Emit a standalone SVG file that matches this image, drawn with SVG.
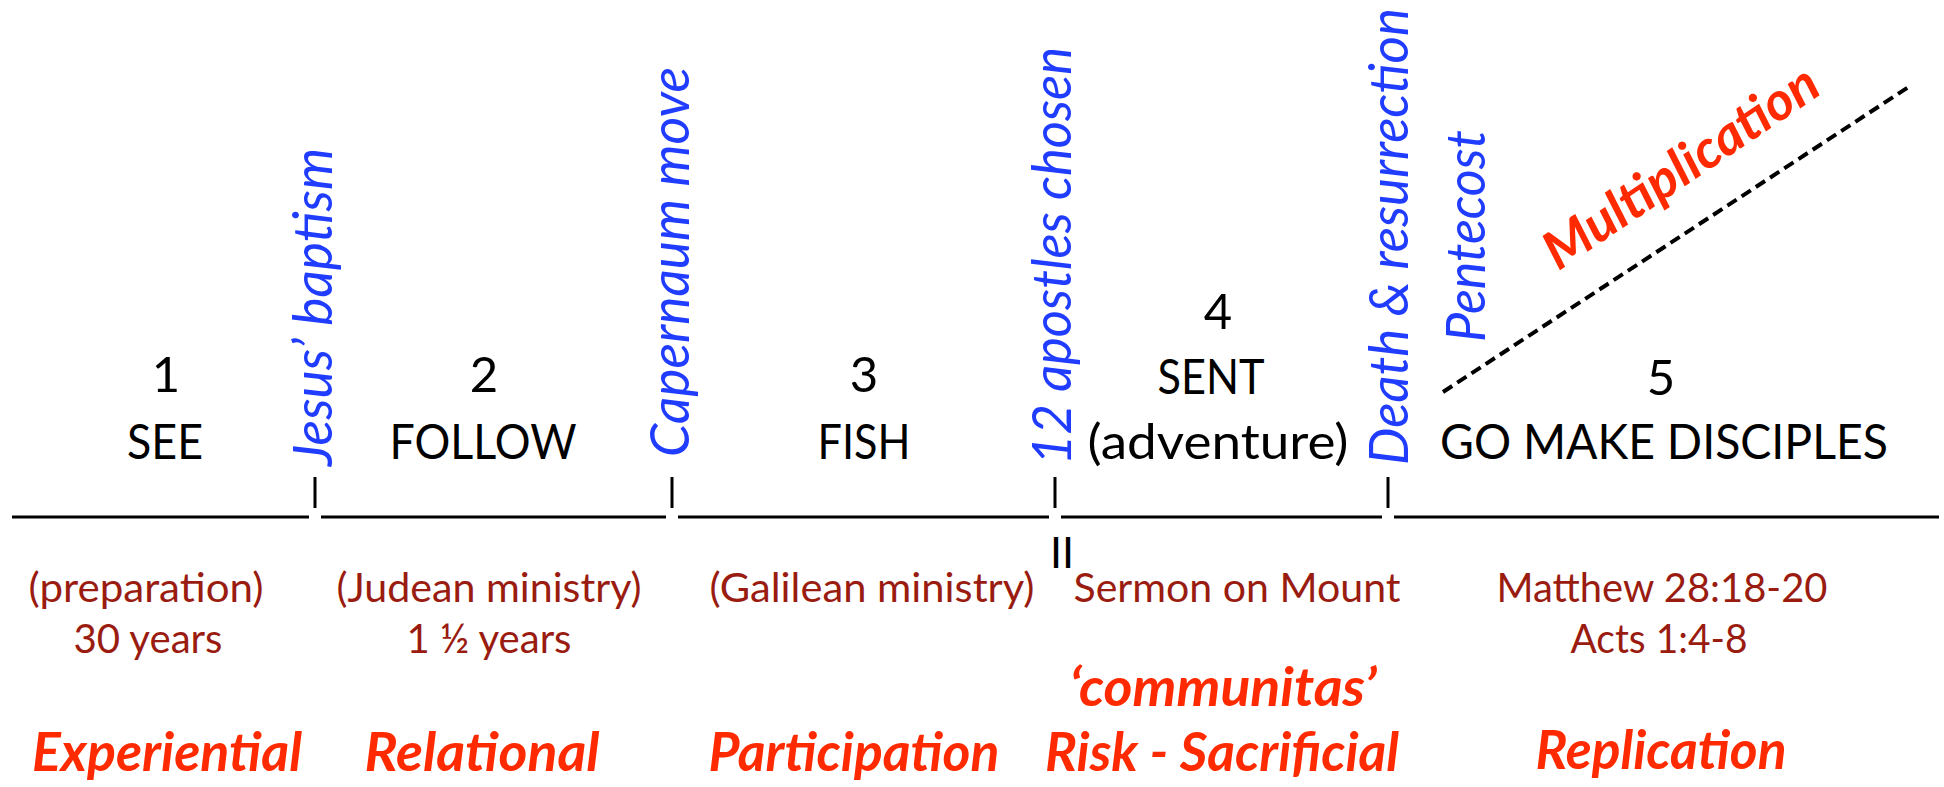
<svg xmlns="http://www.w3.org/2000/svg" width="1944" height="787" viewBox="0 0 1944 787">
<style>
.blk{font-family:Lato,"Liberation Sans",sans-serif;font-size:49px;fill:#000;text-anchor:middle}
.blue{font-family:Lato,"Liberation Sans",sans-serif;font-size:54px;font-style:italic;fill:#1f3cff}
.brn{font-family:Lato,"Liberation Sans",sans-serif;font-size:41px;fill:#9a1c10;text-anchor:middle}
.red{font-family:Lato,"Liberation Sans",sans-serif;font-size:53px;font-style:italic;font-weight:bold;fill:#ff2a00;text-anchor:middle}
.axis{stroke:#000;stroke-width:3;fill:none}
.tick{stroke:#000;stroke-width:3}
</style>
<rect width="1944" height="787" fill="#fff"/>
<g id="connectors">
<g id="timeline" class="axis">
<line x1="12" y1="517" x2="309" y2="517"/>
<line x1="321" y1="517" x2="666" y2="517"/>
<line x1="678" y1="517" x2="1049" y2="517"/>
<line x1="1061" y1="517" x2="1382" y2="517"/>
<line x1="1394" y1="517" x2="1939" y2="517"/>
</g>
<g id="ticks" class="tick">
<line x1="315" y1="477" x2="315" y2="508"/>
<line x1="672" y1="477" x2="672" y2="508"/>
<line x1="1055" y1="477" x2="1055" y2="508"/>
<line x1="1388" y1="477" x2="1388" y2="508"/>
</g>
<line id="multiplication-line" x1="1443" y1="392" x2="1910" y2="86" stroke="#000" stroke-width="4" stroke-dasharray="11,6"/>
</g>
<g id="stage1">
<text class="blk" x="166" y="392">1</text>
<text class="blk" x="165" y="459" textLength="76" lengthAdjust="spacingAndGlyphs">SEE</text>
<text class="brn" x="146" y="602" textLength="235" lengthAdjust="spacingAndGlyphs">(preparation)</text>
<text class="brn" x="148" y="653" textLength="149" lengthAdjust="spacingAndGlyphs">30 years</text>
<text class="red" x="167" y="771" textLength="270" lengthAdjust="spacingAndGlyphs">Experiential</text>
</g>
<g id="stage2">
<text class="blk" x="484" y="392">2</text>
<text class="blk" x="483" y="459" textLength="187" lengthAdjust="spacingAndGlyphs">FOLLOW</text>
<text class="brn" x="489" y="602" textLength="305" lengthAdjust="spacingAndGlyphs">(Judean ministry)</text>
<text class="brn" x="489" y="653" textLength="165" lengthAdjust="spacingAndGlyphs">1 ½ years</text>
<text class="red" x="482" y="771" textLength="235" lengthAdjust="spacingAndGlyphs">Relational</text>
</g>
<g id="stage3">
<text class="blk" x="864" y="392">3</text>
<text class="blk" x="864" y="459" textLength="93" lengthAdjust="spacingAndGlyphs">FISH</text>
<text class="brn" x="872" y="602" textLength="325" lengthAdjust="spacingAndGlyphs">(Galilean ministry)</text>
<text class="red" x="854" y="771" textLength="291" lengthAdjust="spacingAndGlyphs">Participation</text>
</g>
<g id="stage4">
<text class="blk" x="1218" y="329">4</text>
<text class="blk" x="1211" y="394" textLength="107" lengthAdjust="spacingAndGlyphs">SENT</text>
<text class="blk" x="1218" y="459" textLength="261" lengthAdjust="spacingAndGlyphs">(adventure)</text>
<text class="blk" x="1062" y="568" style="font-size:43px">II</text>
<text class="brn" x="1237" y="602" textLength="327" lengthAdjust="spacingAndGlyphs">Sermon on Mount</text>
<text class="red" x="1223" y="706" textLength="307" lengthAdjust="spacingAndGlyphs">‘communitas’</text>
<text class="red" x="1222" y="771" textLength="354" lengthAdjust="spacingAndGlyphs">Risk - Sacrificial</text>
</g>
<g id="stage5">
<text class="blk" x="1661" y="395">5</text>
<text class="blk" x="1664" y="459" textLength="448" lengthAdjust="spacingAndGlyphs">GO MAKE DISCIPLES</text>
<text class="brn" x="1662" y="602" textLength="331" lengthAdjust="spacingAndGlyphs">Matthew 28:18-20</text>
<text class="brn" x="1659" y="653" textLength="177" lengthAdjust="spacingAndGlyphs">Acts 1:4-8</text>
<text class="red" x="1661" y="769" textLength="251" lengthAdjust="spacingAndGlyphs">Replication</text>
<text class="red" transform="translate(1691,182) rotate(-34)" textLength="320" lengthAdjust="spacingAndGlyphs">Multiplication</text>
</g>
<g id="events">
<text class="blue" transform="translate(332,466) rotate(-90)" textLength="318" lengthAdjust="spacingAndGlyphs">Jesus’ baptism</text>
<text class="blue" transform="translate(689,457) rotate(-90)" textLength="390" lengthAdjust="spacingAndGlyphs">Capernaum move</text>
<text class="blue" transform="translate(1071,465) rotate(-90)" textLength="418" lengthAdjust="spacingAndGlyphs">12 apostles chosen</text>
<text class="blue" transform="translate(1408,465) rotate(-90)" textLength="457" lengthAdjust="spacingAndGlyphs">Death &amp; resurrection</text>
<text class="blue" transform="translate(1485,342) rotate(-90)" textLength="212" lengthAdjust="spacingAndGlyphs">Pentecost</text>
</g>
</svg>
